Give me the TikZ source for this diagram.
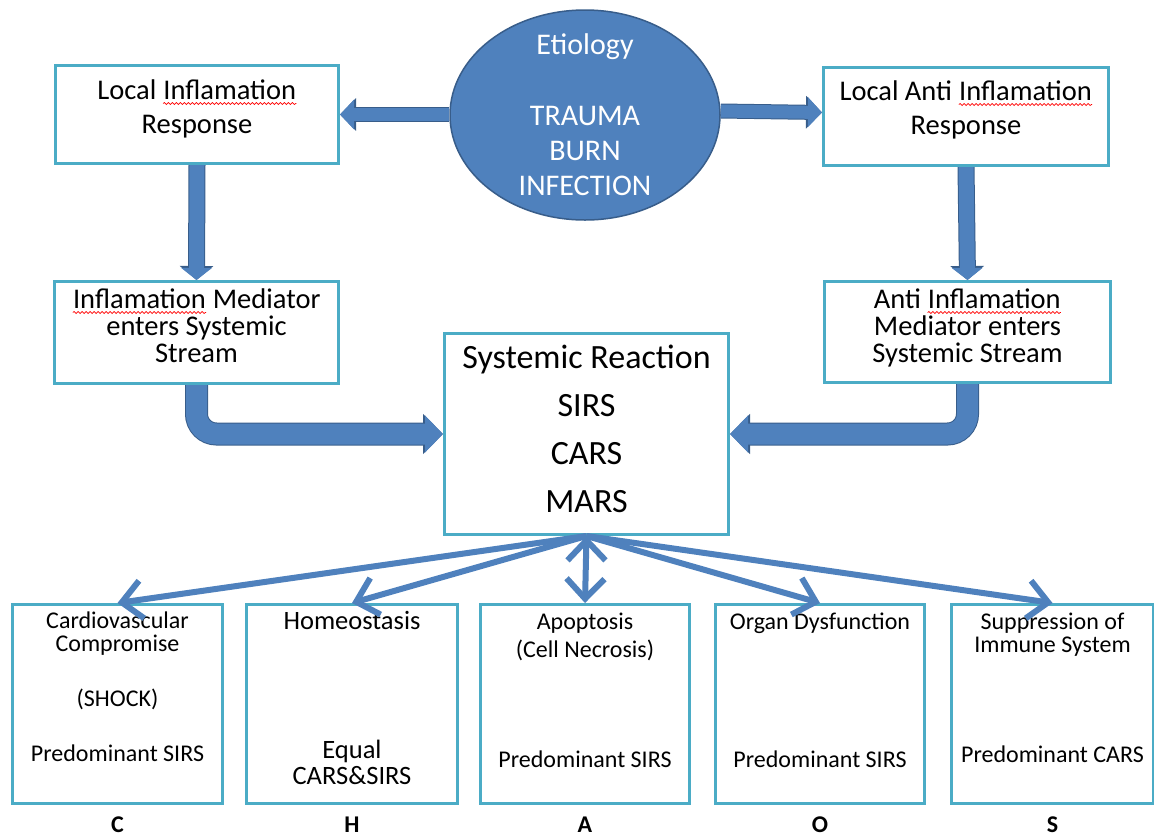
\documentclass[tikz,border=0pt]{standalone}
\usepackage{fontspec}
\setmainfont{Carlito}
\usetikzlibrary{shapes.geometric,arrows.meta,positioning,backgrounds,decorations.pathmorphing}

\definecolor{boxline}{RGB}{75,172,198}
\definecolor{arrowfill}{RGB}{79,129,189}
\definecolor{arrowline}{RGB}{56,93,138}

\newcommand{\sqg}[1]{\tikz[baseline=(w.base)]{\node[inner sep=0pt] (w) {#1};
  \draw[red, line width=0.7pt, decorate, decoration={snake, amplitude=1pt, segment length=4pt}]
    ([yshift=-4pt]w.base west) -- ([yshift=-4pt]w.base east);}}
\newcommand{\boxtext}[4]{\parbox[c][#2pt][t]{#1pt}{\centering\rule{0pt}{#3pt}#4}}

\begin{document}
\begin{tikzpicture}[x=1pt, y=-1pt,
  box/.style={draw=boxline, line width=3pt, fill=white, inner sep=0pt, anchor=north west},
  cause/.style={ellipse, draw=arrowline, line width=1.5pt, fill=arrowfill, minimum width=270pt, minimum height=210pt},
  causetext/.style={text=white, align=center, font=\fontsize{30}{35}\selectfont},
  big/.style={font=\fontsize{28.5}{34}\selectfont},
  tight/.style={font=\fontsize{28.5}{27}\selectfont},
  small/.style={font=\fontsize{24}{23}\selectfont},
  tag/.style={font=\fontsize{24}{24}\selectfont\bfseries, inner sep=0pt},
  sidearrow/.style={draw=arrowfill, line width=13pt, -{Triangle[width=29pt,length=14pt]},
    preaction={draw=arrowline, line width=15pt, -{Triangle[width=32pt,length=16pt]}}},
  downarrow/.style={draw=arrowfill, line width=15pt, -{Triangle[width=30pt,length=12pt]},
    preaction={draw=arrowline, line width=17pt, -{Triangle[width=33pt,length=14pt]}}},
  bentarrow/.style={rounded corners=20pt, draw=arrowfill, line width=21pt, -{Triangle[width=36pt,length=18pt]},
    preaction={draw=arrowline, line width=23pt, -{Triangle[width=39pt,length=20pt]}}},
  spread/.style={draw=arrowfill, line width=6pt, -{Straight Barb[length=20pt,width=38pt]}}]
\useasboundingbox (0,0) rectangle (1154,839);

\node (etio) [cause] at (585,115) {};
\node (etiotext) [causetext] at (etio.center) {Etiology\\[36pt]TRAUMA\\BURN\\INFECTION};

\node (lir) [box, big] at (54,64) {\boxtext{283}{98}{34}{Local \sqg{Inflamation}\\Response}};
\node (lair) [box, big] at (822,66) {\boxtext{285}{98}{33}{Local Anti \sqg{Inflamation}\\Response}};
\node (imss) [box, tight] at (53,280) {\boxtext{284}{102}{27}{\sqg{Inflamation} Mediator\\enters Systemic\\Stream}};
\node (aimss) [box, tight] at (823,280) {\boxtext{286}{101}{27}{Anti \sqg{Inflamation}\\Mediator enters\\Systemic Stream}};
\node (sr) [box, font=\fontsize{34}{48}\selectfont] at (443,332) {\boxtext{284}{201}{35}{Systemic Reaction\\SIRS\\CARS\\MARS}};

\node (c) [box, small] at (11,603) {\boxtext{210}{199}{24}{Cardiovascular\\Compromise\\[32pt](SHOCK)\\[32pt]Predominant SIRS}};
\node (h) [box, font=\fontsize{26.5}{26}\selectfont] at (245,603) {\boxtext{211}{199}{25}{Homeostasis\\[103pt]Equal\\CARS\&SIRS}};
\node (a) [box, small] at (479,603) {\boxtext{209}{199}{25}{Apoptosis\\[5pt](Cell Necrosis)\\[87pt]Predominant SIRS}};
\node (o) [box, small] at (714,603) {\boxtext{209}{199}{25}{Organ Dysfunction\\[115pt]Predominant SIRS}};
\node (s) [box, small] at (950,603) {\boxtext{202}{199}{25}{Suppression of\\Immune System\\[87pt]Predominant CARS}};

\node (lc) [tag, below=12pt of c] {C};
\node (lh) [tag, below=12pt of h] {H};
\node (la) [tag, below=12pt of a] {A};
\node (lo) [tag, below=12pt of o] {O};
\node (ls) [tag, below=12pt of s] {S};

\begin{scope}[on background layer]
  \draw [sidearrow] (etio.west |- lir.east) -- (lir.east);
  \draw [sidearrow] ([yshift=4pt]etio.east) -- ([yshift=4pt]lair.west);
  \draw [downarrow] (lir.south) -- (imss.north);
  \draw [downarrow] (lair.south) -- (aimss.north);
  \draw [bentarrow] (imss.south) |- (sr.west);
  \draw [bentarrow] (aimss.south) |- (sr.east);
\end{scope}

\path [spread]
  (sr.south) edge (c.north)
             edge (h.north)
             edge (a.north)
             edge (o.north)
             edge (s.north);
\end{tikzpicture}
\end{document}
